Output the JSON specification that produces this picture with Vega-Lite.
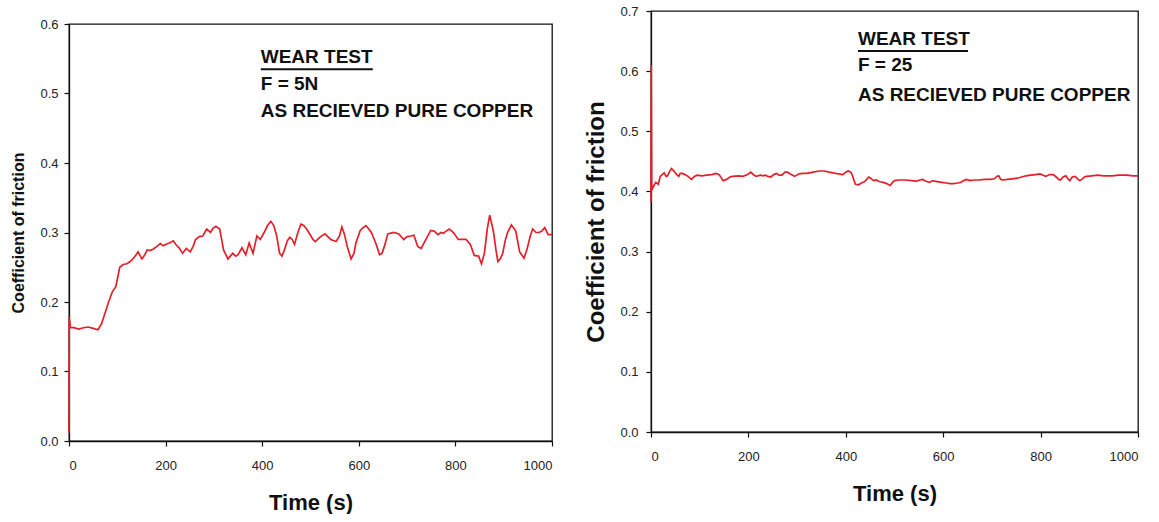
{
  "$schema": "https://vega.github.io/schema/vega-lite/v6.json",
  "background": "white",
  "padding": {"left": 10, "top": 4, "right": 0, "bottom": 0},
  "spacing": 27,
  "config": {
    "font": "Liberation Sans",
    "view": {"stroke": "#111", "strokeWidth": 1.3},
    "axis": {
      "domainColor": "#111",
      "domainWidth": 1.3,
      "tickColor": "#111",
      "tickSize": 5,
      "tickWidth": 1.2,
      "grid": false,
      "labelFont": "Liberation Sans",
      "labelFontSize": 13,
      "labelColor": "#222",
      "titleFont": "Liberation Sans",
      "titleFontWeight": "bold",
      "titleColor": "#111"
    }
  },
  "datasets": {
    "low": [
      {"t":0,"v":0.012},{"t":0.5,"v":0.178},{"t":3,"v":0.163},{"t":10,"v":0.163},{"t":20,"v":0.161},{"t":30,"v":0.163},{"t":40,"v":0.164},{"t":50,"v":0.162},{"t":60,"v":0.16},{"t":67,"v":0.168},{"t":75,"v":0.185},{"t":82,"v":0.2},{"t":90,"v":0.215},{"t":97,"v":0.222},{"t":105,"v":0.25},{"t":112,"v":0.254},{"t":120,"v":0.255},{"t":128,"v":0.259},{"t":136,"v":0.265},{"t":143,"v":0.272},{"t":151,"v":0.262},{"t":157,"v":0.268},{"t":162,"v":0.275},{"t":168,"v":0.274},{"t":174,"v":0.276},{"t":182,"v":0.28},{"t":189,"v":0.284},{"t":195,"v":0.281},{"t":201,"v":0.283},{"t":208,"v":0.285},{"t":216,"v":0.288},{"t":222,"v":0.282},{"t":228,"v":0.278},{"t":235,"v":0.27},{"t":243,"v":0.277},{"t":251,"v":0.272},{"t":257,"v":0.28},{"t":262,"v":0.29},{"t":270,"v":0.294},{"t":277,"v":0.295},{"t":285,"v":0.305},{"t":293,"v":0.3},{"t":298,"v":0.306},{"t":304,"v":0.309},{"t":312,"v":0.305},{"t":316,"v":0.29},{"t":320,"v":0.275},{"t":329,"v":0.262},{"t":334,"v":0.266},{"t":339,"v":0.27},{"t":345,"v":0.266},{"t":350,"v":0.268},{"t":358,"v":0.278},{"t":366,"v":0.268},{"t":373,"v":0.285},{"t":381,"v":0.27},{"t":389,"v":0.295},{"t":396,"v":0.29},{"t":404,"v":0.3},{"t":411,"v":0.31},{"t":418,"v":0.316},{"t":424,"v":0.31},{"t":430,"v":0.295},{"t":436,"v":0.27},{"t":441,"v":0.266},{"t":446,"v":0.275},{"t":452,"v":0.288},{"t":457,"v":0.293},{"t":462,"v":0.29},{"t":467,"v":0.283},{"t":473,"v":0.298},{"t":480,"v":0.312},{"t":486,"v":0.31},{"t":492,"v":0.305},{"t":500,"v":0.296},{"t":505,"v":0.29},{"t":510,"v":0.287},{"t":519,"v":0.293},{"t":530,"v":0.298},{"t":542,"v":0.29},{"t":553,"v":0.287},{"t":560,"v":0.295},{"t":565,"v":0.308},{"t":570,"v":0.298},{"t":576,"v":0.28},{"t":584,"v":0.262},{"t":590,"v":0.27},{"t":594,"v":0.285},{"t":603,"v":0.303},{"t":609,"v":0.307},{"t":615,"v":0.31},{"t":626,"v":0.3},{"t":635,"v":0.285},{"t":643,"v":0.268},{"t":648,"v":0.27},{"t":653,"v":0.28},{"t":660,"v":0.298},{"t":672,"v":0.3},{"t":683,"v":0.298},{"t":693,"v":0.29},{"t":700,"v":0.294},{"t":708,"v":0.295},{"t":714,"v":0.296},{"t":722,"v":0.28},{"t":729,"v":0.277},{"t":739,"v":0.29},{"t":749,"v":0.303},{"t":756,"v":0.302},{"t":764,"v":0.297},{"t":770,"v":0.3},{"t":775,"v":0.299},{"t":781,"v":0.302},{"t":787,"v":0.305},{"t":796,"v":0.3},{"t":806,"v":0.29},{"t":815,"v":0.29},{"t":822,"v":0.29},{"t":831,"v":0.283},{"t":839,"v":0.267},{"t":848,"v":0.266},{"t":854,"v":0.255},{"t":860,"v":0.27},{"t":866,"v":0.305},{"t":871,"v":0.325},{"t":876,"v":0.31},{"t":879,"v":0.3},{"t":884,"v":0.275},{"t":888,"v":0.258},{"t":893,"v":0.262},{"t":898,"v":0.27},{"t":903,"v":0.288},{"t":908,"v":0.3},{"t":916,"v":0.311},{"t":925,"v":0.302},{"t":933,"v":0.272},{"t":942,"v":0.263},{"t":948,"v":0.275},{"t":955,"v":0.295},{"t":960,"v":0.305},{"t":967,"v":0.3},{"t":973,"v":0.3},{"t":979,"v":0.302},{"t":985,"v":0.307},{"t":992,"v":0.297},{"t":1000,"v":0.297}
    ],
    "high": [
      {"t":0,"v":0.383},{"t":0.5,"v":0.61},{"t":1.5,"v":0.41},{"t":3,"v":0.405},{"t":6,"v":0.41},{"t":10,"v":0.415},{"t":15,"v":0.412},{"t":19,"v":0.425},{"t":23,"v":0.428},{"t":27,"v":0.431},{"t":31,"v":0.425},{"t":34,"v":0.426},{"t":38,"v":0.433},{"t":42,"v":0.438},{"t":46,"v":0.435},{"t":49,"v":0.432},{"t":53,"v":0.428},{"t":57,"v":0.425},{"t":60,"v":0.43},{"t":64,"v":0.43},{"t":70,"v":0.428},{"t":76,"v":0.425},{"t":83,"v":0.42},{"t":89,"v":0.425},{"t":95,"v":0.427},{"t":105,"v":0.426},{"t":114,"v":0.427},{"t":125,"v":0.428},{"t":133,"v":0.43},{"t":140,"v":0.428},{"t":144,"v":0.423},{"t":148,"v":0.418},{"t":155,"v":0.42},{"t":162,"v":0.424},{"t":167,"v":0.425},{"t":180,"v":0.426},{"t":189,"v":0.425},{"t":198,"v":0.428},{"t":205,"v":0.432},{"t":210,"v":0.428},{"t":216,"v":0.425},{"t":225,"v":0.427},{"t":230,"v":0.426},{"t":235,"v":0.427},{"t":240,"v":0.425},{"t":246,"v":0.424},{"t":252,"v":0.428},{"t":258,"v":0.43},{"t":263,"v":0.427},{"t":269,"v":0.427},{"t":275,"v":0.432},{"t":280,"v":0.432},{"t":288,"v":0.428},{"t":295,"v":0.425},{"t":303,"v":0.429},{"t":311,"v":0.43},{"t":320,"v":0.43},{"t":333,"v":0.432},{"t":345,"v":0.434},{"t":356,"v":0.434},{"t":366,"v":0.432},{"t":379,"v":0.43},{"t":394,"v":0.428},{"t":400,"v":0.432},{"t":405,"v":0.434},{"t":410,"v":0.432},{"t":413,"v":0.428},{"t":417,"v":0.418},{"t":420,"v":0.412},{"t":426,"v":0.411},{"t":432,"v":0.414},{"t":438,"v":0.416},{"t":443,"v":0.42},{"t":447,"v":0.424},{"t":451,"v":0.422},{"t":457,"v":0.418},{"t":462,"v":0.419},{"t":470,"v":0.416},{"t":477,"v":0.415},{"t":484,"v":0.413},{"t":491,"v":0.41},{"t":496,"v":0.415},{"t":500,"v":0.418},{"t":510,"v":0.419},{"t":523,"v":0.419},{"t":535,"v":0.418},{"t":545,"v":0.417},{"t":552,"v":0.419},{"t":557,"v":0.42},{"t":565,"v":0.417},{"t":572,"v":0.415},{"t":578,"v":0.418},{"t":583,"v":0.417},{"t":590,"v":0.416},{"t":598,"v":0.415},{"t":606,"v":0.414},{"t":614,"v":0.413},{"t":621,"v":0.413},{"t":630,"v":0.414},{"t":636,"v":0.415},{"t":642,"v":0.418},{"t":648,"v":0.42},{"t":655,"v":0.418},{"t":664,"v":0.419},{"t":674,"v":0.419},{"t":685,"v":0.42},{"t":697,"v":0.42},{"t":705,"v":0.421},{"t":710,"v":0.425},{"t":714,"v":0.426},{"t":718,"v":0.42},{"t":723,"v":0.419},{"t":732,"v":0.42},{"t":742,"v":0.421},{"t":752,"v":0.422},{"t":761,"v":0.424},{"t":770,"v":0.426},{"t":780,"v":0.427},{"t":790,"v":0.428},{"t":799,"v":0.429},{"t":805,"v":0.427},{"t":811,"v":0.425},{"t":818,"v":0.428},{"t":826,"v":0.428},{"t":832,"v":0.424},{"t":837,"v":0.42},{"t":841,"v":0.419},{"t":846,"v":0.424},{"t":852,"v":0.426},{"t":856,"v":0.421},{"t":860,"v":0.418},{"t":865,"v":0.424},{"t":871,"v":0.425},{"t":876,"v":0.421},{"t":880,"v":0.418},{"t":885,"v":0.42},{"t":890,"v":0.424},{"t":894,"v":0.425},{"t":905,"v":0.426},{"t":917,"v":0.427},{"t":930,"v":0.426},{"t":947,"v":0.426},{"t":960,"v":0.427},{"t":977,"v":0.427},{"t":990,"v":0.426},{"t":1000,"v":0.426}
    ],
    "notesL": [
      {"t":397,"v":0.553,"label":"WEAR TEST"},
      {"t":397,"v":0.514,"label":"F = 5N"},
      {"t":397,"v":0.4755,"label":"AS RECIEVED PURE COPPER"}
    ],
    "lineL": [{"t":397,"t2":629,"v":0.535}],
    "notesR": [
      {"t":425,"v":0.654,"label":"WEAR TEST"},
      {"t":425,"v":0.6095,"label":"F = 25"},
      {"t":425,"v":0.561,"label":"AS RECIEVED PURE COPPER"}
    ],
    "lineR": [{"t":425,"t2":651,"v":0.6335}]
  },
  "hconcat": [
    {
      "spacing": 5,
      "vconcat": [
        {
          "width": 483,
          "height": 1,
          "data": {"values": []},
          "mark": {"type": "point", "opacity": 0},
          "encoding": {},
          "view": {"stroke": null}
        },
        {
          "width": 483,
          "height": 417,
          "layer": [
            {
              "data": {"name": "low"},
              "mark": {"type": "line", "color": "#e3202a", "strokeWidth": 1.7},
              "encoding": {
                "x": {"field": "t", "type": "quantitative", "scale": {"domain": [0, 1000], "nice": false},
                      "axis": {"values": [0,200,400,600,800,1000], "format": "d", "title": "Time (s)", "titleFontSize": 22, "labelPadding": 13, "titlePadding": 20}},
                "y": {"field": "v", "type": "quantitative", "scale": {"domain": [0, 0.6], "nice": false},
                      "axis": {"values": [0,0.1,0.2,0.3,0.4,0.5,0.6], "format": ".1f", "title": "Coefficient of friction", "titleFontSize": 16, "labelPadding": 6, "titlePadding": 13}}
              }
            },
            {
              "data": {"name": "lineL"},
              "mark": {"type": "rule", "color": "#111", "strokeWidth": 2},
              "encoding": {
                "x": {"field": "t", "type": "quantitative"},
                "x2": {"field": "t2"},
                "y": {"field": "v", "type": "quantitative"}
              }
            },
            {
              "data": {"name": "notesL"},
              "mark": {"type": "text", "align": "left", "baseline": "middle", "font": "Liberation Sans", "fontWeight": "bold", "fontSize": 19, "color": "#111"},
              "encoding": {
                "x": {"field": "t", "type": "quantitative"},
                "y": {"field": "v", "type": "quantitative"},
                "text": {"field": "label"}
              }
            }
          ]
        }
      ]
    },
    {
      "width": 487,
      "height": 421,
      "layer": [
        {
          "data": {"name": "high"},
          "mark": {"type": "line", "color": "#e3202a", "strokeWidth": 1.7},
          "encoding": {
            "x": {"field": "t", "type": "quantitative", "scale": {"domain": [0, 1000], "nice": false},
                  "axis": {"values": [0,200,400,600,800,1000], "format": "d", "title": "Time (s)", "titleFontSize": 22, "labelPadding": 13, "titlePadding": 20}},
            "y": {"field": "v", "type": "quantitative", "scale": {"domain": [0, 0.7], "nice": false},
                  "axis": {"values": [0,0.1,0.2,0.3,0.4,0.5,0.6,0.7], "format": ".1f", "title": "Coefficient of friction", "titleFontSize": 24, "labelPadding": 8, "titlePadding": 11}}
          }
        },
        {
          "data": {"name": "lineR"},
          "mark": {"type": "rule", "color": "#111", "strokeWidth": 2},
          "encoding": {
            "x": {"field": "t", "type": "quantitative"},
            "x2": {"field": "t2"},
            "y": {"field": "v", "type": "quantitative"}
          }
        },
        {
          "data": {"name": "notesR"},
          "mark": {"type": "text", "align": "left", "baseline": "middle", "font": "Liberation Sans", "fontWeight": "bold", "fontSize": 19, "color": "#111"},
          "encoding": {
            "x": {"field": "t", "type": "quantitative"},
            "y": {"field": "v", "type": "quantitative"},
            "text": {"field": "label"}
          }
        }
      ]
    }
  ]
}
